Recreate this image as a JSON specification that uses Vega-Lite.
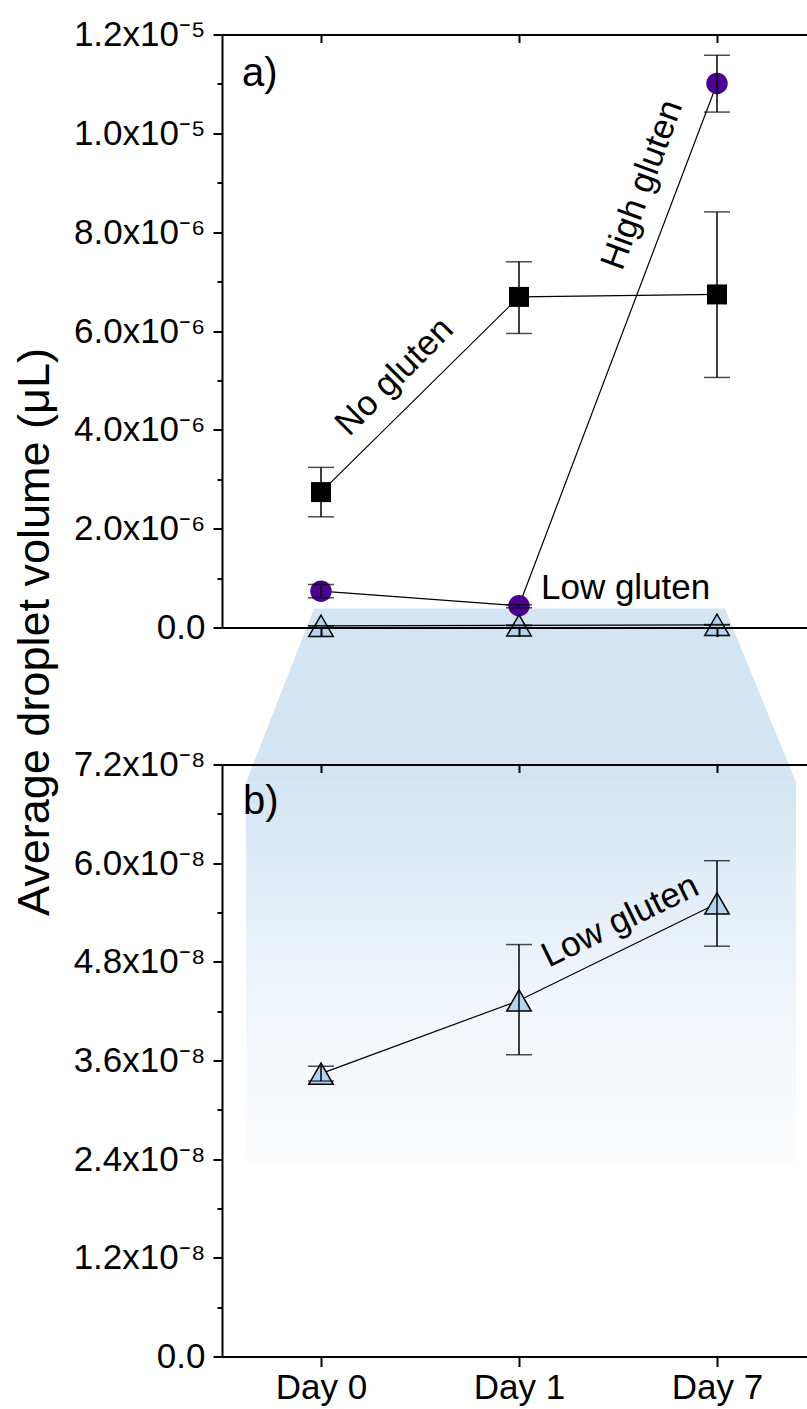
{
  "$schema": "https://vega.github.io/schema/vega-lite/v6.json",
  "padding": {"left": 12, "top": 17.5, "right": 0, "bottom": 0},
  "config": {
    "view": {"stroke": null},
    "font": "Liberation Sans",
    "axis": {"grid": false, "domainColor": "#000", "domainWidth": 2, "tickColor": "#000", "tickWidth": 2, "labelColor": "#000", "labelFont": "Liberation Sans", "labelFontSize": 35, "titleColor": "#000", "titleFont": "Liberation Sans", "titleFontWeight": "normal"},
    "title": {"font": "Liberation Sans", "fontWeight": "normal", "color": "#000", "fontSize": 40}
  },
  "datasets": {
    "pts": [
      {"day": "Day 0", "group": "No gluten", "mean": 2.74e-6, "lo": 2.24e-6, "hi": 3.24e-6},
      {"day": "Day 1", "group": "No gluten", "mean": 6.69e-6, "lo": 5.95e-6, "hi": 7.40e-6},
      {"day": "Day 7", "group": "No gluten", "mean": 6.74e-6, "lo": 5.06e-6, "hi": 8.41e-6},
      {"day": "Day 0", "group": "High gluten", "mean": 7.35e-7, "lo": 6.0e-7, "hi": 8.7e-7},
      {"day": "Day 1", "group": "High gluten", "mean": 4.4e-7, "lo": 4.0e-7, "hi": 4.6e-7},
      {"day": "Day 7", "group": "High gluten", "mean": 1.101e-5, "lo": 1.043e-5, "hi": 1.158e-5},
      {"day": "Day 0", "group": "Low gluten", "mean": 3.44e-8, "lo": 3.35e-8, "hi": 3.53e-8},
      {"day": "Day 1", "group": "Low gluten", "mean": 4.33e-8, "lo": 3.67e-8, "hi": 5.01e-8},
      {"day": "Day 7", "group": "Low gluten", "mean": 5.51e-8, "lo": 4.99e-8, "hi": 6.03e-8}
    ]
  },
  "vconcat": [
    {
      "width": 594,
      "height": 593,
      "title": {"text": "a)", "anchor": "start", "frame": "group", "dx": 20, "dy": 108, "baseline": "alphabetic", "offset": 0},
      "resolve": {"scale": {"x": "independent"}, "axis": {"x": "independent", "y": "independent"}},
      "layer": [
        {
          "data": {"values": [{"v": 3.84e-7, "l": -0.035, "r": 2.04}, {"v": -3.136e-6, "l": -0.379, "r": 2.399}]},
          "mark": {"type": "area", "orient": "horizontal", "color": "#d3e4f2", "opacity": 1},
          "encoding": {
            "y": {"field": "v", "type": "quantitative", "scale": {"domain": [0, 1.2e-5], "nice": false, "zero": false}, "axis": null},
            "x": {"field": "l", "type": "quantitative", "scale": {"domain": [-0.5, 2.5], "nice": false, "zero": false}, "axis": null},
            "x2": {"field": "r"}
          }
        },
        {
          "data": {"name": "pts"},
          "mark": {"type": "line", "color": "#000", "strokeWidth": 1.2},
          "encoding": {
            "x": {"field": "day", "type": "ordinal", "scale": {"type": "point", "padding": 0.5}, "axis": {"orient": "bottom", "labels": false, "tickSize": 9, "title": null, "zindex": 1}},
            "y": {"field": "mean", "type": "quantitative", "scale": {"domain": [0, 1.2e-5], "nice": false, "zero": false},
              "axis": {"orient": "left", "values": [0, 2e-6, 4e-6, 6e-6, 8e-6, 1e-5, 1.2e-5], "tickSize": 9, "labelPadding": 8,
                "labelExpr": "datum.value == 0 ? '0.0' : datum.value > 9.5e-6 ? format(datum.value*1e5, '.1f') + 'x10⁻⁵' : format(datum.value*1e6, '.1f') + 'x10⁻⁶'",
                "title": "Average droplet volume (μL)", "titleFontSize": 45, "titleAngle": -90, "titleX": -174, "titleY": 597, "titleAlign": "center", "titleBaseline": "alphabetic", "zindex": 1}},
            "detail": {"field": "group"}
          }
        },
        {
          "data": {"name": "pts"},
          "transform": [{"filter": "datum.group == 'No gluten'"}],
          "mark": {"type": "square", "size": 400, "color": "#000", "opacity": 1},
          "encoding": {
            "x": {"field": "day", "type": "ordinal", "scale": {"type": "point", "padding": 0.5}, "axis": {"orient": "top", "labels": false, "tickSize": -8, "title": null, "zindex": 1}},
            "y": {"field": "mean", "type": "quantitative", "scale": {"domain": [0, 1.2e-5], "nice": false, "zero": false},
              "axis": {"orient": "left", "values": [1e-6, 3e-6, 5e-6, 7e-6, 9e-6, 1.1e-5], "labels": false, "tickSize": 5, "domain": false, "title": null}}
          }
        },
        {
          "data": {"name": "pts"},
          "transform": [{"filter": "datum.group == 'High gluten'"}],
          "mark": {"type": "circle", "size": 460, "color": "#4b0091", "opacity": 1},
          "encoding": {
            "x": {"field": "day", "type": "ordinal", "scale": {"type": "point", "padding": 0.5}, "axis": null},
            "y": {"field": "mean", "type": "quantitative", "scale": {"domain": [0, 1.2e-5], "nice": false, "zero": false}, "axis": null}
          }
        },
        {
          "data": {"name": "pts"},
          "transform": [{"filter": "datum.group == 'Low gluten'"}],
          "mark": {"type": "point", "shape": "triangle-up", "size": 600, "filled": true, "fill": "#b3d3f1", "stroke": "#000", "strokeWidth": 1.5, "opacity": 1},
          "encoding": {
            "x": {"field": "day", "type": "ordinal", "scale": {"type": "point", "padding": 0.5}, "axis": null},
            "y": {"field": "mean", "type": "quantitative", "scale": {"domain": [0, 1.2e-5], "nice": false, "zero": false}, "axis": null}
          }
        },
        {
          "data": {"name": "pts"},
          "mark": {"type": "rule", "color": "#000", "strokeWidth": 1.5},
          "encoding": {
            "x": {"field": "day", "type": "ordinal", "scale": {"type": "point", "padding": 0.5}, "axis": null},
            "y": {"field": "lo", "type": "quantitative", "scale": {"domain": [0, 1.2e-5], "nice": false, "zero": false},
              "axis": {"orient": "right", "values": [0, 2e-6, 4e-6, 6e-6, 8e-6, 1e-5, 1.2e-5], "labels": false, "tickSize": -9, "title": null}},
            "y2": {"field": "hi"}
          }
        },
        {
          "data": {"name": "pts"},
          "mark": {"type": "tick", "color": "#000", "size": 26, "thickness": 1.5},
          "encoding": {
            "x": {"field": "day", "type": "ordinal", "scale": {"type": "point", "padding": 0.5}, "axis": null},
            "y": {"field": "lo", "type": "quantitative", "scale": {"domain": [0, 1.2e-5], "nice": false, "zero": false}, "axis": null}
          }
        },
        {
          "data": {"name": "pts"},
          "mark": {"type": "tick", "color": "#000", "size": 26, "thickness": 1.5},
          "encoding": {
            "x": {"field": "day", "type": "ordinal", "scale": {"type": "point", "padding": 0.5}, "axis": null},
            "y": {"field": "hi", "type": "quantitative", "scale": {"domain": [0, 1.2e-5], "nice": false, "zero": false}, "axis": null}
          }
        },
        {
          "data": {"values": [{"label": "No gluten", "pos": 0.37, "val": 5.08e-6}]},
          "mark": {"type": "text", "angle": -45, "fontSize": 35, "font": "Liberation Sans", "color": "#000", "align": "center", "baseline": "middle"},
          "encoding": {
            "x": {"field": "pos", "type": "quantitative", "scale": {"domain": [-0.5, 2.5], "nice": false, "zero": false}, "axis": null},
            "y": {"field": "val", "type": "quantitative", "scale": {"domain": [0, 1.2e-5], "nice": false, "zero": false}, "axis": null},
            "text": {"field": "label"}
          }
        },
        {
          "data": {"values": [{"label": "High gluten", "pos": 1.621, "val": 8.96e-6}]},
          "mark": {"type": "text", "angle": -70, "fontSize": 35, "font": "Liberation Sans", "color": "#000", "align": "center", "baseline": "middle"},
          "encoding": {
            "x": {"field": "pos", "type": "quantitative", "scale": {"domain": [-0.5, 2.5], "nice": false, "zero": false}, "axis": null},
            "y": {"field": "val", "type": "quantitative", "scale": {"domain": [0, 1.2e-5], "nice": false, "zero": false}, "axis": null},
            "text": {"field": "label"}
          }
        },
        {
          "data": {"values": [{"label": "Low gluten", "pos": 1.111, "val": 5.67e-7}]},
          "mark": {"type": "text", "fontSize": 35, "font": "Liberation Sans", "color": "#000", "align": "left", "baseline": "alphabetic"},
          "encoding": {
            "x": {"field": "pos", "type": "quantitative", "scale": {"domain": [-0.5, 2.5], "nice": false, "zero": false}, "axis": null},
            "y": {"field": "val", "type": "quantitative", "scale": {"domain": [0, 1.2e-5], "nice": false, "zero": false}, "axis": null},
            "text": {"field": "label"}
          }
        }
      ]
    },
    {
      "width": 594,
      "height": 592,
      "title": {"text": "b)", "anchor": "start", "frame": "group", "dx": 21, "dy": 106, "baseline": "alphabetic", "offset": 0},
      "resolve": {"scale": {"x": "independent"}, "axis": {"x": "independent", "y": "independent"}},
      "layer": [
        {
          "data": {"values": [{"l": -0.379, "r": 2.399, "v1": 6.98e-8, "v2": 2.33e-8}]},
          "mark": {"type": "rect", "fill": {"gradient": "linear", "x1": 0, "y1": 0, "x2": 0, "y2": 1, "stops": [{"offset": 0, "color": "#d4e5f3"}, {"offset": 0.3, "color": "#e4eef8"}, {"offset": 0.6, "color": "#f1f6fb"}, {"offset": 1, "color": "#fcfdfe"}]}},
          "encoding": {
            "x": {"field": "l", "type": "quantitative", "scale": {"domain": [-0.5, 2.5], "nice": false, "zero": false}, "axis": null},
            "x2": {"field": "r"},
            "y": {"field": "v1", "type": "quantitative", "scale": {"domain": [0, 7.2e-8], "nice": false, "zero": false}, "axis": null},
            "y2": {"field": "v2"}
          }
        },
        {
          "data": {"name": "pts"},
          "transform": [{"filter": "datum.group == 'Low gluten'"}],
          "mark": {"type": "line", "color": "#000", "strokeWidth": 1.2},
          "encoding": {
            "x": {"field": "day", "type": "ordinal", "scale": {"type": "point", "padding": 0.5}, "axis": {"orient": "bottom", "labels": true, "labelAngle": 0, "tickSize": 10, "labelPadding": 4, "title": null, "zindex": 1}},
            "y": {"field": "mean", "type": "quantitative", "scale": {"domain": [0, 7.2e-8], "nice": false, "zero": false},
              "axis": {"orient": "left", "values": [0, 1.2e-8, 2.4e-8, 3.6e-8, 4.8e-8, 6.0e-8, 7.2e-8], "tickSize": 9, "labelPadding": 8,
                "labelExpr": "datum.value == 0 ? '0.0' : format(datum.value*1e8, '.1f') + 'x10⁻⁸'", "title": null, "zindex": 1}}
          }
        },
        {
          "data": {"name": "pts"},
          "transform": [{"filter": "datum.group == 'Low gluten'"}],
          "mark": {"type": "point", "shape": "triangle-up", "size": 600, "filled": true, "fill": "#b3d3f1", "stroke": "#000", "strokeWidth": 1.5, "opacity": 1},
          "encoding": {
            "x": {"field": "day", "type": "ordinal", "scale": {"type": "point", "padding": 0.5}, "axis": {"orient": "top", "labels": false, "tickSize": -8, "title": null, "zindex": 1}},
            "y": {"field": "mean", "type": "quantitative", "scale": {"domain": [0, 7.2e-8], "nice": false, "zero": false},
              "axis": {"orient": "left", "values": [6e-9, 1.8e-8, 3.0e-8, 4.2e-8, 5.4e-8, 6.6e-8], "labels": false, "tickSize": 5, "domain": false, "title": null}}
          }
        },
        {
          "data": {"name": "pts"},
          "transform": [{"filter": "datum.group == 'Low gluten'"}],
          "mark": {"type": "rule", "color": "#000", "strokeWidth": 1.5},
          "encoding": {
            "x": {"field": "day", "type": "ordinal", "scale": {"type": "point", "padding": 0.5}, "axis": null},
            "y": {"field": "lo", "type": "quantitative", "scale": {"domain": [0, 7.2e-8], "nice": false, "zero": false},
              "axis": {"orient": "right", "values": [0, 1.2e-8, 2.4e-8, 3.6e-8, 4.8e-8, 6.0e-8, 7.2e-8], "labels": false, "tickSize": -9, "title": null}},
            "y2": {"field": "hi"}
          }
        },
        {
          "data": {"name": "pts"},
          "transform": [{"filter": "datum.group == 'Low gluten'"}],
          "mark": {"type": "tick", "color": "#000", "size": 26, "thickness": 1.5},
          "encoding": {
            "x": {"field": "day", "type": "ordinal", "scale": {"type": "point", "padding": 0.5}, "axis": null},
            "y": {"field": "lo", "type": "quantitative", "scale": {"domain": [0, 7.2e-8], "nice": false, "zero": false}, "axis": null}
          }
        },
        {
          "data": {"name": "pts"},
          "transform": [{"filter": "datum.group == 'Low gluten'"}],
          "mark": {"type": "tick", "color": "#000", "size": 26, "thickness": 1.5},
          "encoding": {
            "x": {"field": "day", "type": "ordinal", "scale": {"type": "point", "padding": 0.5}, "axis": null},
            "y": {"field": "hi", "type": "quantitative", "scale": {"domain": [0, 7.2e-8], "nice": false, "zero": false}, "axis": null}
          }
        },
        {
          "data": {"values": [{"label": "Low gluten", "pos": 1.51, "val": 5.30e-8}]},
          "mark": {"type": "text", "angle": -26, "fontSize": 35, "font": "Liberation Sans", "color": "#000", "align": "center", "baseline": "middle"},
          "encoding": {
            "x": {"field": "pos", "type": "quantitative", "scale": {"domain": [-0.5, 2.5], "nice": false, "zero": false}, "axis": null},
            "y": {"field": "val", "type": "quantitative", "scale": {"domain": [0, 7.2e-8], "nice": false, "zero": false}, "axis": null},
            "text": {"field": "label"}
          }
        }
      ]
    }
  ],
  "bounds": "flush",
  "spacing": 137
}
